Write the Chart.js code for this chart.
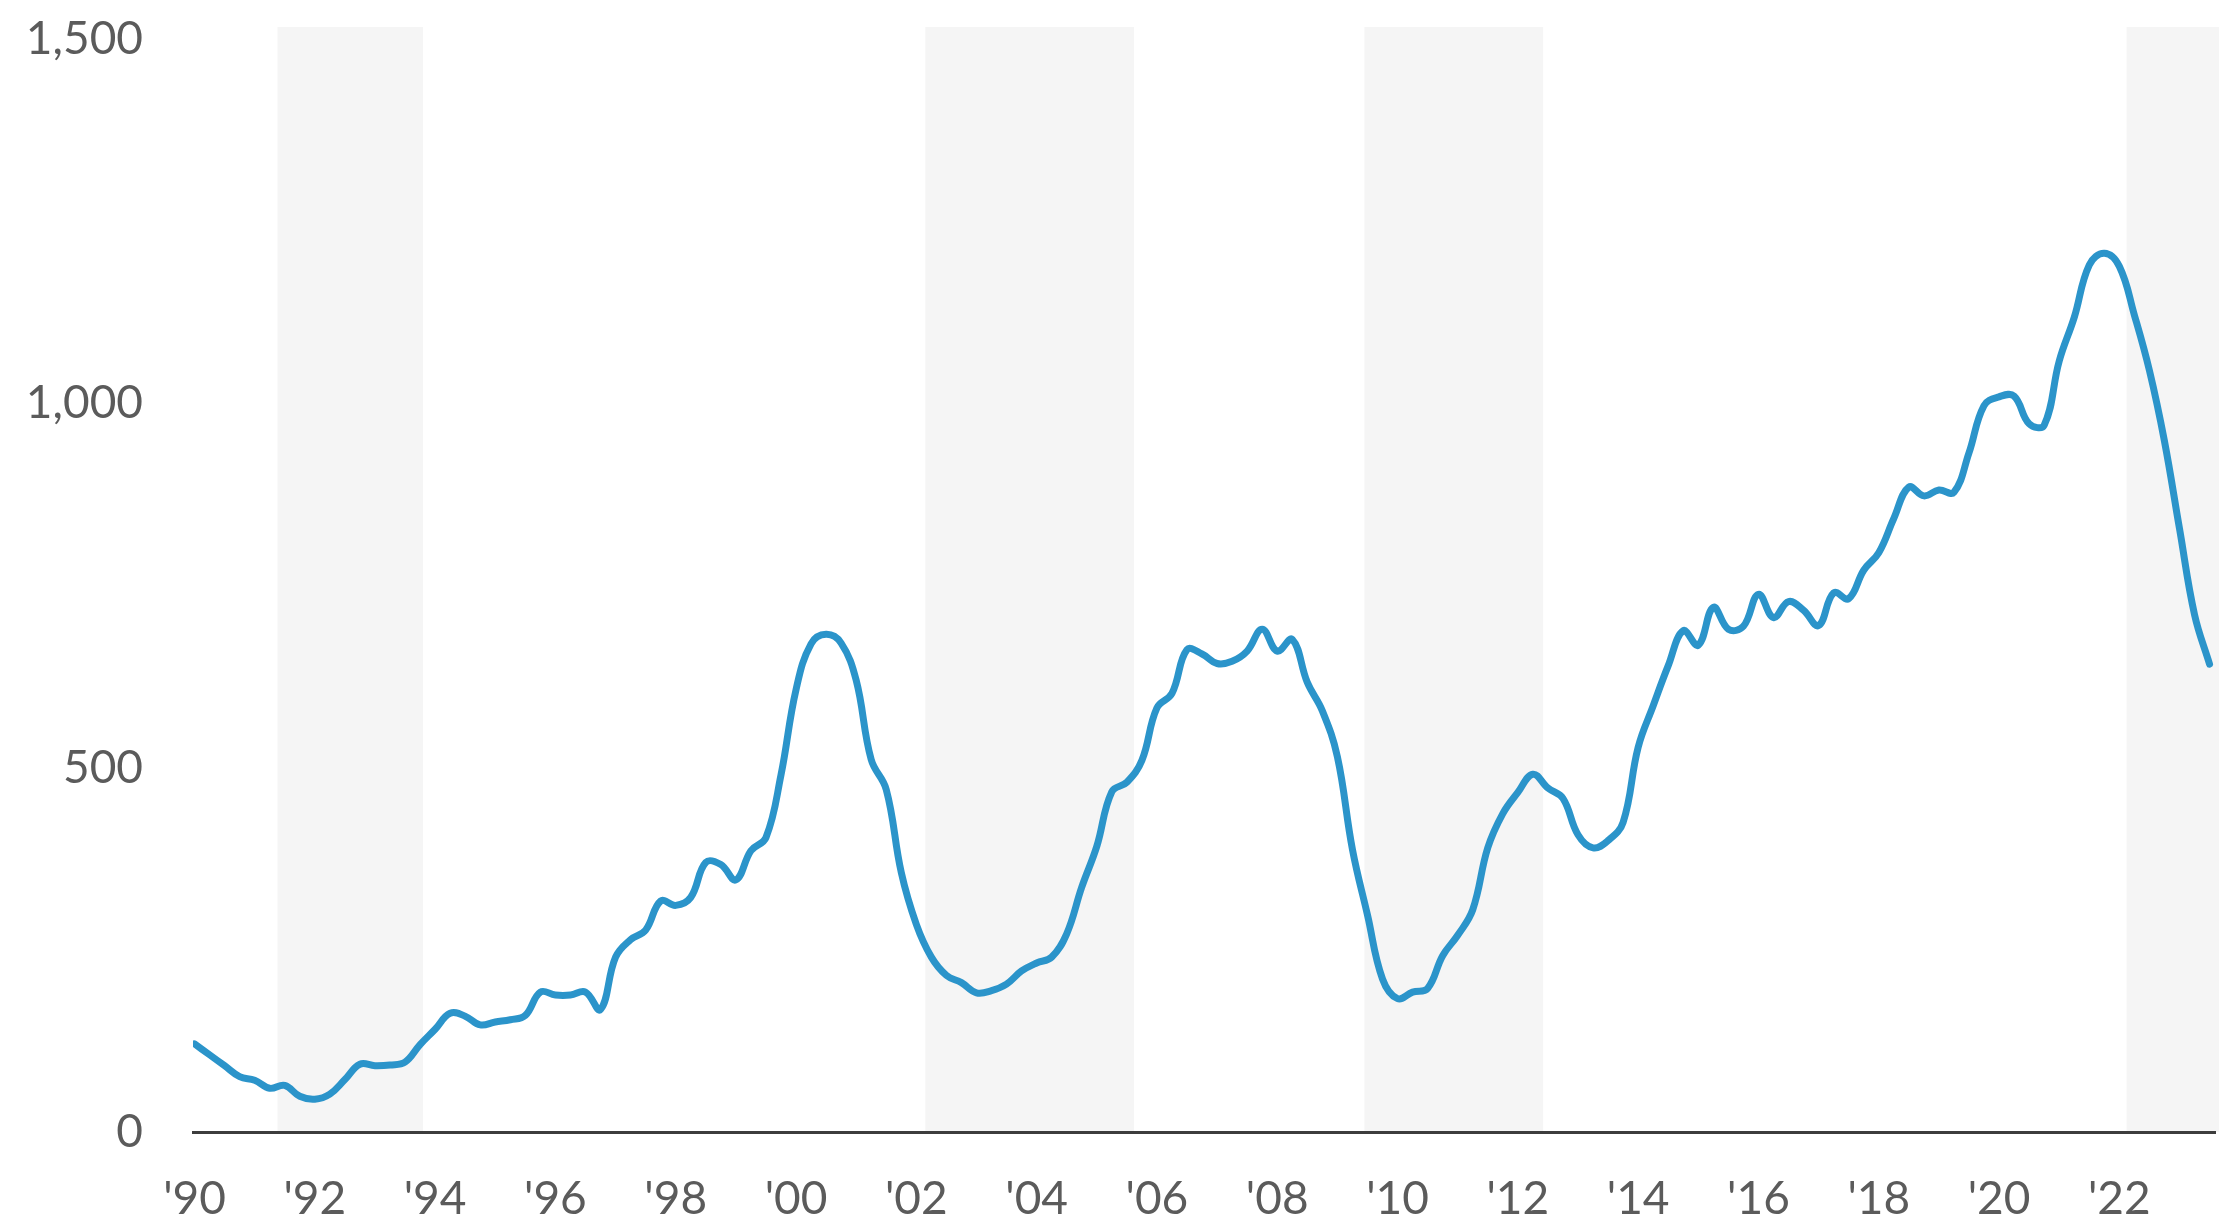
<!DOCTYPE html>
<html><head><meta charset="utf-8">
<script src="https://cdn.jsdelivr.net/npm/chart.js@4.4.1/dist/chart.umd.min.js"></script>
<style>html,body{margin:0;padding:0;background:#fff;overflow:hidden;}</style>
</head><body>
<canvas id="c" width="2219" height="1218"></canvas>
<script>
// Quarterly series starting 1990 Q1
const startYear = 1990;
const quarterlyValues = [
  121,106,91,76, 71,60,64,49, 45,52,72,93, 91,92,96,120,
  141,163,159,147, 151,154,160,192, 188,188,192,168, 240,264,277,317,
  311,322,370,367, 346,386,404,490, 607,670,683,671, 620,511,470,356,
  285,240,215,205, 191,194,203,221, 232,240,272,336, 392,467,480,510,
  582,602,662,656, 643,646,660,690, 660,676,617,578, 515,388,298,210,
  183,192,197,242, 270,305,390,437, 466,491,472,458, 408,390,400,425,
  528,585,640,688, 668,720,690,694, 738,706,728,716, 695,740,732,771,
  795,842,885,873, 881,878,932,997, 1009,1010,972,970, 1058,1118,1190,1206,
  1188,1121,1045,948, 828,710,642
];
const tickYears = [1990,1992,1994,1996,1998,2000,2002,2004,2006,2008,2010,2012,2014,2016,2018,2020,2022];
const tickLabels = ["'90","'92","'94","'96","'98","'00","'02","'04","'06","'08","'10","'12","'14","'16","'18","'20","'22"];
const yTicks = [0,500,1000,1500];
const bandStarts = [1991.38, 2002.15, 2009.45, 2022.12];
const bandEnds   = [1993.80, 2005.62, 2012.42, 2024.00];

const points = quarterlyValues.map((v,i)=>({x: startYear + i/4, y: v}));

const bandPlugin = {
  id:'bands',
  beforeDraw(chart){
    const {ctx, chartArea, scales:{x}} = chart;
    ctx.save();
    ctx.fillStyle = '#f5f5f5';
    bandStarts.forEach((a,i)=>{
      const x0 = x.getPixelForValue(a);
      const x1 = Math.min(chart.width, x.getPixelForValue(bandEnds[i]));
      ctx.fillRect(x0, chartArea.top, x1-x0, chartArea.bottom-chartArea.top);
    });
    ctx.restore();
  }
};

const fontSpec = {family:'Lato', size:46};
const textColor = '#5b5b5b';

new Chart(document.getElementById('c'), {
  type:'line',
  data:{datasets:[{
    data: points,
    borderColor:'#2B94CA',
    borderWidth:7,
    pointRadius:0,
    tension:0.4,
    fill:false,
    borderCapStyle:'round',
    borderJoinStyle:'round'
  }]},
  options:{
    responsive:false,
    animation:false,
    devicePixelRatio:1,
    layout:{padding:{top:27,right:4,left:0,bottom:0}},
    plugins:{legend:{display:false},tooltip:{enabled:false}},
    scales:{
      x:{
        type:'linear', min:1989.975, max:2023.59,
        afterBuildTicks: s => { s.ticks = tickYears.map(v=>({value:v})); },
        afterFit: s => { s.height = 86; s.paddingLeft = 0; s.paddingRight = 0; },
        ticks:{
          callback:(v)=>{ const i = tickYears.indexOf(v); return i>=0 ? tickLabels[i] : ''; },
          font:fontSpec, color:textColor, padding:40, maxRotation:0, autoSkip:false
        },
        grid:{display:false, drawTicks:false},
        border:{display:true, color:'#3d3d3d', width:3}
      },
      y:{
        type:'linear', min:0, max:1516.5,
        afterBuildTicks: s => { s.ticks = yTicks.map(v=>({value:v})); },
        afterFit: s => { s.width = 193; s.paddingTop = 0; s.paddingBottom = 0; },
        ticks:{
          callback:(v)=> v.toLocaleString('en-US'),
          font:fontSpec, color:textColor, padding:50
        },
        grid:{display:false, drawTicks:false},
        border:{display:false}
      }
    }
  },
  plugins:[bandPlugin]
});
</script>
</body></html>
